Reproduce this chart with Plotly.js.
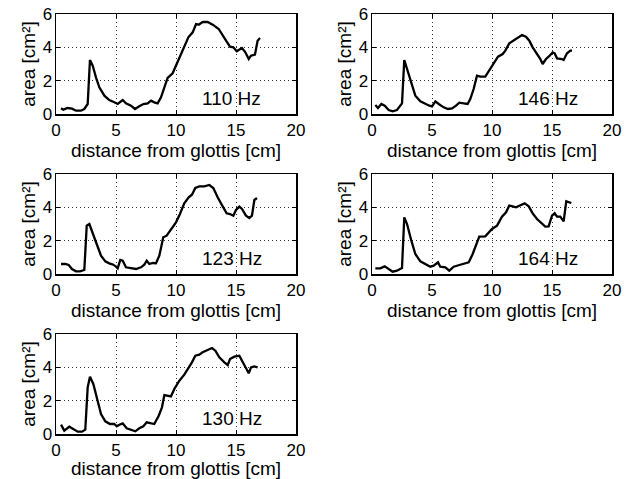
<!DOCTYPE html>
<html>
<head>
<meta charset="utf-8">
<script src="https://cdn.plot.ly/plotly-3.0.1.min.js"></script>
<style>
  html, body { margin: 0; padding: 0; background: #fff; }
  #chart { width: 636px; height: 479px; }
</style>
</head>
<body>
<div id="chart"></div>
<script>
// ---- data ----
const labels = ["110 Hz", "146 Hz", "123 Hz", "164 Hz", "130 Hz"];

const dist110 = [0.42,0.6,0.97,1.33,1.67,2.08,2.36,2.64,2.83,3.06,3.33,3.61,4.03,4.44,4.86,5.14,5.56,5.83,6.25,6.58,6.94,7.28,7.64,7.92,8.19,8.47,8.75,9.03,9.3,9.72,10.06,10.42,10.69,11.03,11.39,11.67,11.89,12.22,12.64,13.06,13.56,13.89,14.17,14.5,14.78,15.06,15.5,15.78,16.06,16.25,16.58,16.8,17.0];
const area110 = [0.34,0.26,0.36,0.32,0.2,0.2,0.3,0.6,3.24,2.9,2.2,1.6,1.1,0.84,0.7,0.6,0.84,0.64,0.5,0.3,0.46,0.6,0.64,0.8,0.7,0.64,1.0,1.6,2.16,2.44,3.0,3.7,4.1,4.6,4.9,5.4,5.36,5.52,5.52,5.36,5.1,4.76,4.4,4.04,4.0,3.76,3.96,3.7,3.3,3.5,3.56,4.4,4.56];

const dist146 = [0.28,0.5,0.78,1.06,1.39,1.72,2.08,2.5,2.69,2.92,3.28,3.61,4.03,4.44,4.78,5.0,5.28,5.56,5.97,6.33,6.67,7.0,7.28,7.64,7.97,8.19,8.47,8.75,9.03,9.44,9.78,10.14,10.5,10.89,11.11,11.44,11.81,12.22,12.5,12.83,13.11,13.39,13.75,14.03,14.22,14.5,14.72,15.06,15.22,15.42,15.83,15.97,16.25,16.53,16.67];
const area146 = [0.54,0.36,0.6,0.5,0.24,0.16,0.24,0.64,3.24,2.7,1.9,1.1,0.76,0.6,0.5,0.46,0.76,0.6,0.4,0.3,0.34,0.5,0.68,0.64,0.6,0.9,1.5,2.3,2.24,2.24,2.6,3.0,3.44,3.6,3.8,4.24,4.4,4.6,4.74,4.64,4.4,4.0,3.64,3.3,3.0,3.3,3.44,3.7,3.64,3.34,3.3,3.24,3.64,3.8,3.8];

const dist123 = [0.42,0.78,1.06,1.33,1.67,2.0,2.36,2.56,2.78,3.06,3.39,3.75,4.11,4.44,4.78,5.0,5.14,5.36,5.56,5.83,6.25,6.67,7.08,7.36,7.56,7.78,8.06,8.33,8.61,8.94,9.22,9.58,10.0,10.33,10.69,11.06,11.33,11.61,11.94,12.36,12.78,13.11,13.47,13.89,14.22,14.5,14.78,15.0,15.28,15.5,15.83,16.11,16.33,16.53,16.75];
const area123 = [0.6,0.6,0.54,0.3,0.16,0.16,0.24,2.9,3.0,2.5,1.8,1.1,0.76,0.64,0.56,0.44,0.34,0.84,0.8,0.4,0.34,0.3,0.4,0.56,0.8,0.6,0.66,0.64,1.1,2.2,2.3,2.64,3.1,3.6,4.24,4.6,4.76,5.16,5.26,5.26,5.34,5.16,4.6,4.06,3.64,3.6,3.5,3.84,4.04,3.9,3.5,3.36,3.5,4.44,4.56];

const dist164 = [0.28,0.69,1.06,1.33,1.72,2.08,2.5,2.69,2.92,3.28,3.61,4.03,4.44,4.86,5.14,5.5,5.69,6.11,6.44,6.81,7.28,7.64,8.06,8.39,8.67,8.94,9.44,9.78,10.0,10.42,10.83,11.17,11.44,11.72,12.0,12.28,12.72,13.06,13.39,13.75,14.03,14.44,14.72,15.0,15.22,15.42,15.69,15.97,16.19,16.61];
const area164 = [0.34,0.34,0.46,0.34,0.14,0.2,0.36,3.4,3.0,2.0,1.2,0.76,0.6,0.44,0.5,0.7,0.44,0.4,0.2,0.44,0.54,0.6,0.7,1.2,1.8,2.24,2.26,2.5,2.7,2.9,3.44,3.7,4.1,4.06,4.0,4.1,4.24,4.06,3.64,3.3,3.1,2.84,2.86,3.5,3.64,3.44,3.44,3.16,4.36,4.26];

const dist130 = [0.42,0.69,1.11,1.44,1.81,2.17,2.44,2.64,2.83,3.11,3.39,3.75,4.11,4.5,4.86,5.06,5.28,5.56,5.89,6.25,6.61,6.94,7.28,7.56,7.92,8.19,8.56,8.83,9.03,9.31,9.58,9.86,10.28,10.69,11.11,11.33,11.61,11.94,12.22,12.64,13.0,13.28,13.61,14.03,14.31,14.5,14.86,15.28,15.56,15.83,16.06,16.25,16.53,16.8];
const area130 = [0.56,0.2,0.44,0.3,0.14,0.14,0.26,2.8,3.44,3.0,2.2,1.2,0.76,0.6,0.6,0.46,0.56,0.64,0.34,0.24,0.16,0.34,0.46,0.7,0.64,0.6,1.1,1.6,2.34,2.3,2.26,2.7,3.2,3.56,4.0,4.3,4.7,4.76,4.9,5.06,5.16,5.0,4.6,4.3,4.14,4.5,4.64,4.7,4.3,4.0,3.64,4.0,4.06,4.0];

const xTicks = [0, 5, 10, 15, 20];
const yTicks = [0, 2, 4, 6];
const xTitle = "distance from glottis [cm]";
const yTitle = "area [cm\u00B2]";

const series = [
  [dist110, area110],
  [dist146, area146],
  [dist123, area123],
  [dist164, area164],
  [dist130, area130]
];

// ---- layout ----
const W = 636, H = 479;
const cols = [[56, 296], [372, 612]];
const rows = [[14, 114], [174, 274], [334, 434]];
const FONT = "Liberation Sans, Arial, Helvetica, sans-serif";

const traces = [];
const layout = {
  width: W, height: H,
  margin: {l: 0, r: 0, t: 0, b: 0},
  paper_bgcolor: "#fff",
  plot_bgcolor: "#fff",
  showlegend: false,
  font: {family: FONT, size: 17, color: "#000"},
  annotations: []
};

series.forEach((s, i) => {
  const c = cols[i % 2];
  const r = rows[Math.floor(i / 2)];
  const n = i + 1;
  const sfx = n === 1 ? "" : String(n);
  const xa = "x" + sfx;
  const ya = "y" + sfx;
  traces.push({
    x: s[0], y: s[1], type: "scatter", mode: "lines",
    xaxis: xa, yaxis: ya,
    line: {color: "#000", width: 2.3},
    hoverinfo: "skip"
  });
  const common = {
    showline: true, mirror: "ticks", linecolor: "#000", linewidth: 1.5,
    ticks: "inside", ticklen: 4, tickwidth: 1, tickcolor: "#000",
    showgrid: true, gridcolor: "#333", gridwidth: 1, griddash: "1px,3px",
    zeroline: false, fixedrange: true,
    tickfont: {family: FONT, size: 17, color: "#000"}
  };
  layout["xaxis" + sfx] = Object.assign({}, common, {
    domain: [c[0] / W, c[1] / W],
    anchor: ya,
    range: [0, 20], tickmode: "array", tickvals: xTicks, ticktext: xTicks.map(String),
    title: {text: xTitle, font: {family: FONT, size: 19, color: "#000"}, standoff: 0}
  });
  layout["yaxis" + sfx] = Object.assign({}, common, {
    domain: [1 - r[1] / H, 1 - r[0] / H],
    anchor: xa,
    range: [0, 6], tickmode: "array", tickvals: yTicks, ticktext: yTicks.map(String),
    ticklabelstandoff: -1,
    title: {text: yTitle, font: {family: FONT, size: 19, color: "#000"}, standoff: 2}
  });
  layout.annotations.push({
    xref: xa, yref: ya, x: 14.65, y: 0.95,
    text: labels[i], showarrow: false,
    xanchor: "center", yanchor: "middle",
    font: {family: FONT, size: 19, color: "#000"}
  });
});

Plotly.newPlot("chart", traces, layout, {staticPlot: true, displayModeBar: false});
</script>
</body>
</html>
